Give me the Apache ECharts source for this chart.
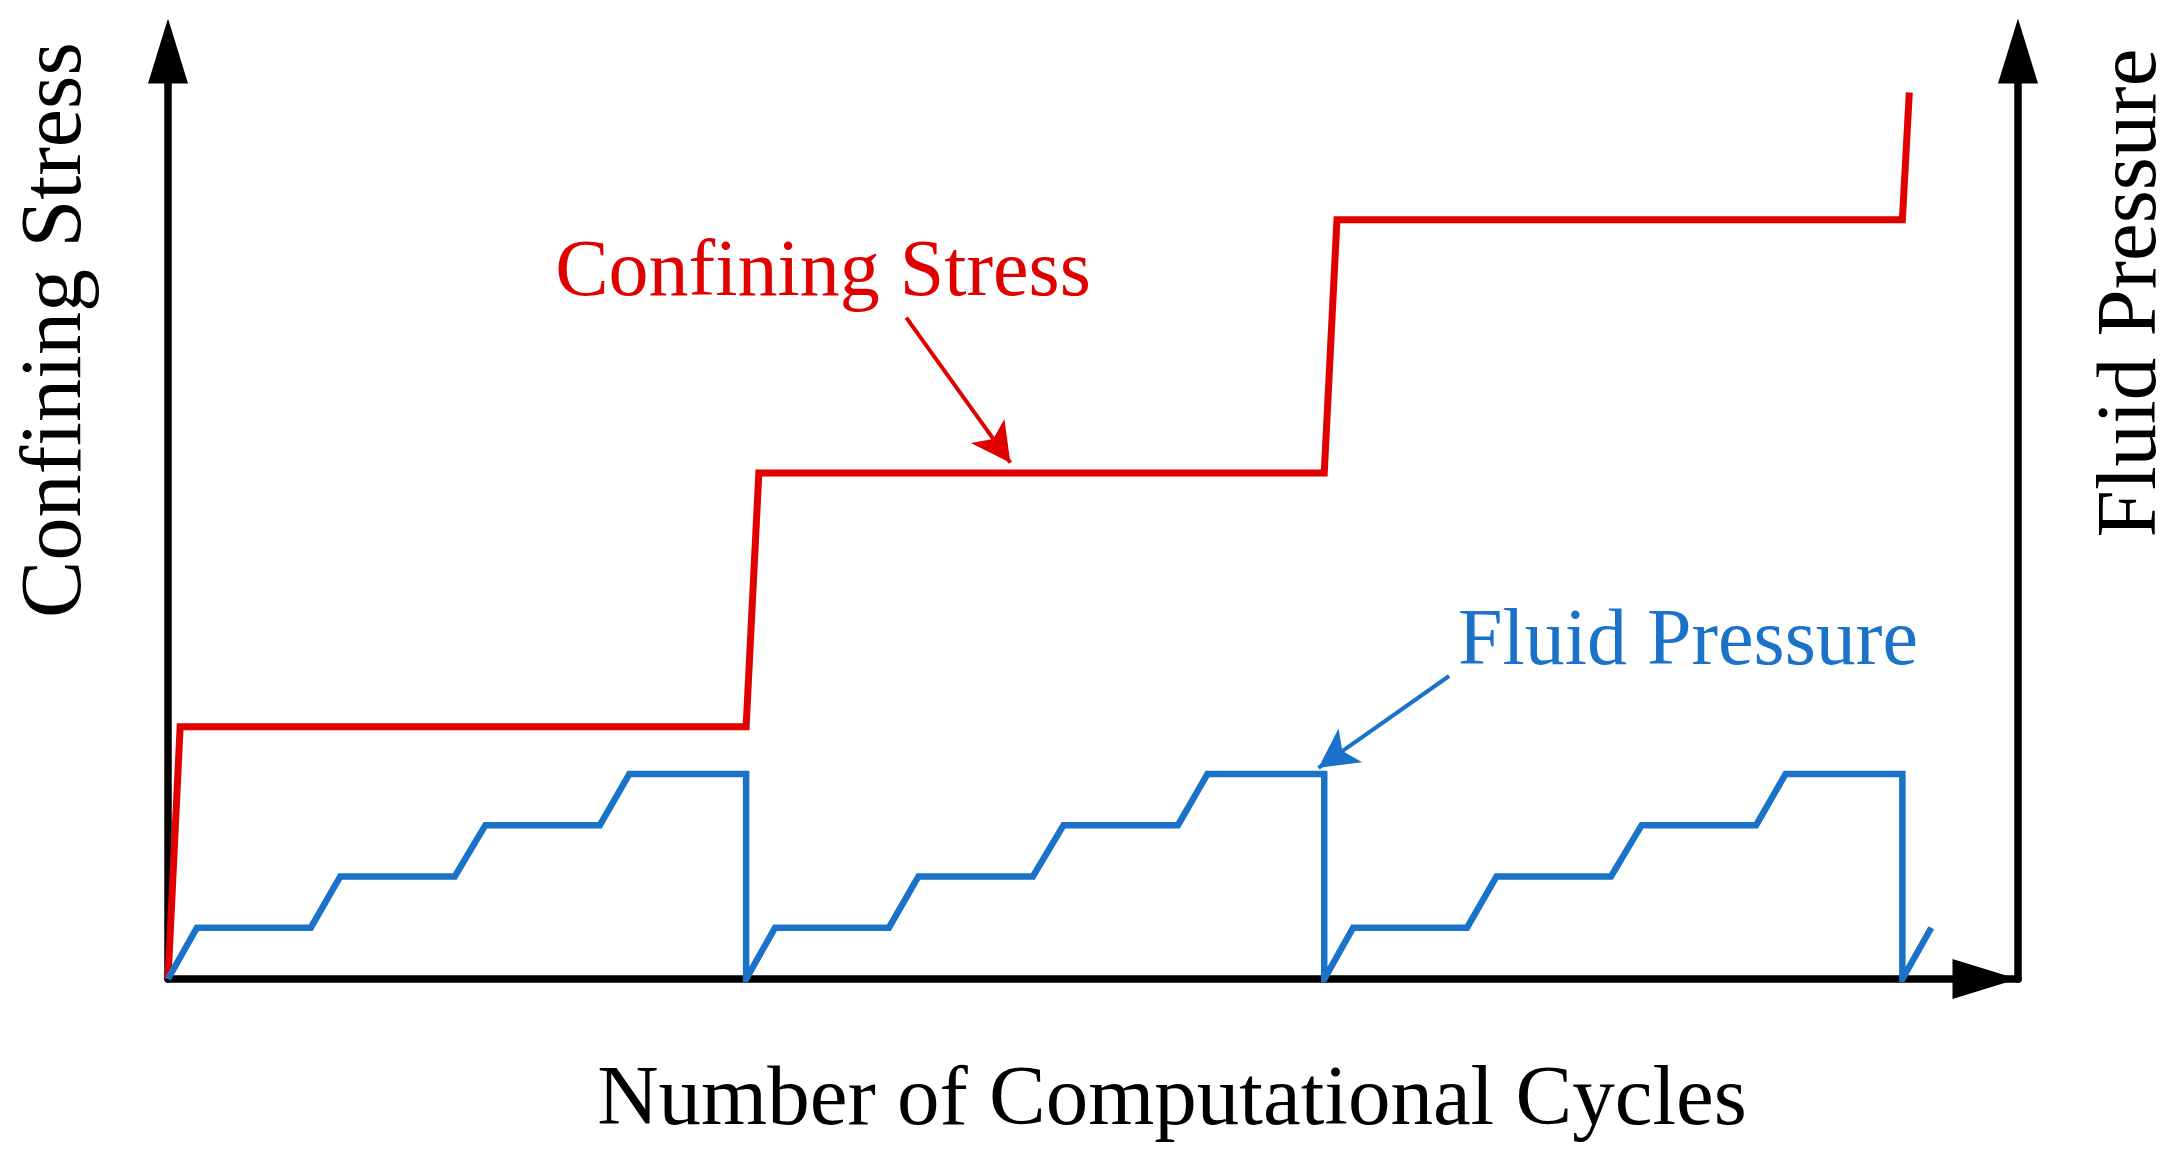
<!DOCTYPE html>
<html>
<head>
<meta charset="utf-8">
<script src="https://cdn.jsdelivr.net/npm/echarts@6/dist/echarts.min.js"></script>
<style>
html,body{margin:0;padding:0;background:#fff;}
#chart{width:2175px;height:1164px;}
</style>
</head>
<body>
<div id="chart"></div>
<script>
// Computational cycles (x) – one loading cycle spans 100 units
const fluidX = [0, 5, 24.7, 29.8, 49.6, 54.9, 74.7, 79.8, 100, 100,
                105, 124.7, 129.8, 149.6, 154.9, 174.7, 179.8, 200, 200,
                205, 224.7, 229.8, 249.6, 254.9, 274.7, 279.8, 300, 300, 305];
const fluidY = [0, 1, 1, 2, 2, 3, 3, 4, 4, 0,
                1, 1, 2, 2, 3, 3, 4, 4, 0,
                1, 1, 2, 2, 3, 3, 4, 4, 0, 1];
const stressX = [0, 2.1, 100, 102.2, 200, 202.2, 300, 301.2];
const stressY = [0, 4.92, 4.92, 9.87, 9.87, 14.81, 14.81, 17.29];
// annotation arrows [start, tip]
const stressArrow = [[127.7, 12.9], [145.7, 10.07]];
const fluidArrow = [[221.6, 5.91], [199.0, 4.12]];
const xMax = 320;
const yMax = 18.1;

const RED = '#E00000';
const BLUE = '#1A73C8';
const FONT = '"Liberation Serif", "Times New Roman", serif';

const pairs = (xs, ys) => xs.map((x, i) => [x, ys[i]]);

const chart = echarts.init(document.getElementById('chart'));
const axisArrowLine = (offset) => ({
  show: true,
  symbol: ['none', 'triangle'],
  symbolSize: [40, 65],
  symbolOffset: [0, offset],
  lineStyle: { color: '#000', width: 7.5 }
});
chart.setOption({
  animation: false,
  backgroundColor: '#fff',
  grid: { left: 168, right: 157, top: 51, bottom: 185, containLabel: false },
  xAxis: {
    type: 'value', min: 0, max: xMax,
    axisLine: axisArrowLine(-33),
    axisTick: { show: false }, axisLabel: { show: false }, splitLine: { show: false }
  },
  yAxis: [
    { type: 'value', min: 0, max: yMax, position: 'left',
      axisLine: axisArrowLine(0),
      axisTick: { show: false }, axisLabel: { show: false }, splitLine: { show: false } },
    { type: 'value', min: 0, max: yMax, position: 'right',
      axisLine: axisArrowLine(0),
      axisTick: { show: false }, axisLabel: { show: false }, splitLine: { show: false } }
  ],
  series: [
    {
      name: 'Confining Stress', type: 'line', yAxisIndex: 0,
      data: pairs(stressX, stressY),
      showSymbol: false, symbol: 'none', z: 3,
      lineStyle: { color: RED, width: 7, join: 'miter' },
      markLine: {
        silent: true, symbol: ['none', 'arrow'], symbolSize: [31, 39],
        lineStyle: { color: RED, width: 4, type: 'solid' },
        label: { show: false },
        data: [[{ coord: stressArrow[0] }, { coord: stressArrow[1] }]]
      }
    },
    {
      name: 'Fluid Pressure', type: 'line', yAxisIndex: 1,
      data: pairs(fluidX, fluidY),
      showSymbol: false, symbol: 'none', z: 3,
      lineStyle: { color: BLUE, width: 6.5, join: 'miter' },
      markLine: {
        silent: true, symbol: ['none', 'arrow'], symbolSize: [31, 39],
        lineStyle: { color: BLUE, width: 4, type: 'solid' },
        label: { show: false },
        data: [[{ coord: fluidArrow[0] }, { coord: fluidArrow[1] }]]
      }
    }
  ],
  graphic: [
    { type: 'text', x: 57, y: 330, rotation: Math.PI / 2,
      style: { text: 'Confining Stress', font: '86px ' + FONT, fill: '#000', align: 'center', verticalAlign: 'middle' } },
    { type: 'text', x: 2133, y: 293, rotation: Math.PI / 2,
      style: { text: 'Fluid Pressure', font: '85px ' + FONT, fill: '#000', align: 'center', verticalAlign: 'middle' } },
    { type: 'text', x: 1172, y: 1102,
      style: { text: 'Number of Computational Cycles', font: '85px ' + FONT, fill: '#000', align: 'center', verticalAlign: 'middle' } },
    { type: 'text', x: 823, y: 274,
      style: { text: 'Confining Stress', font: '80px ' + FONT, fill: RED, align: 'center', verticalAlign: 'middle' } },
    { type: 'text', x: 1688, y: 643,
      style: { text: 'Fluid Pressure', font: '80px ' + FONT, fill: BLUE, align: 'center', verticalAlign: 'middle' } }
  ]
});
</script>
</body>
</html>
